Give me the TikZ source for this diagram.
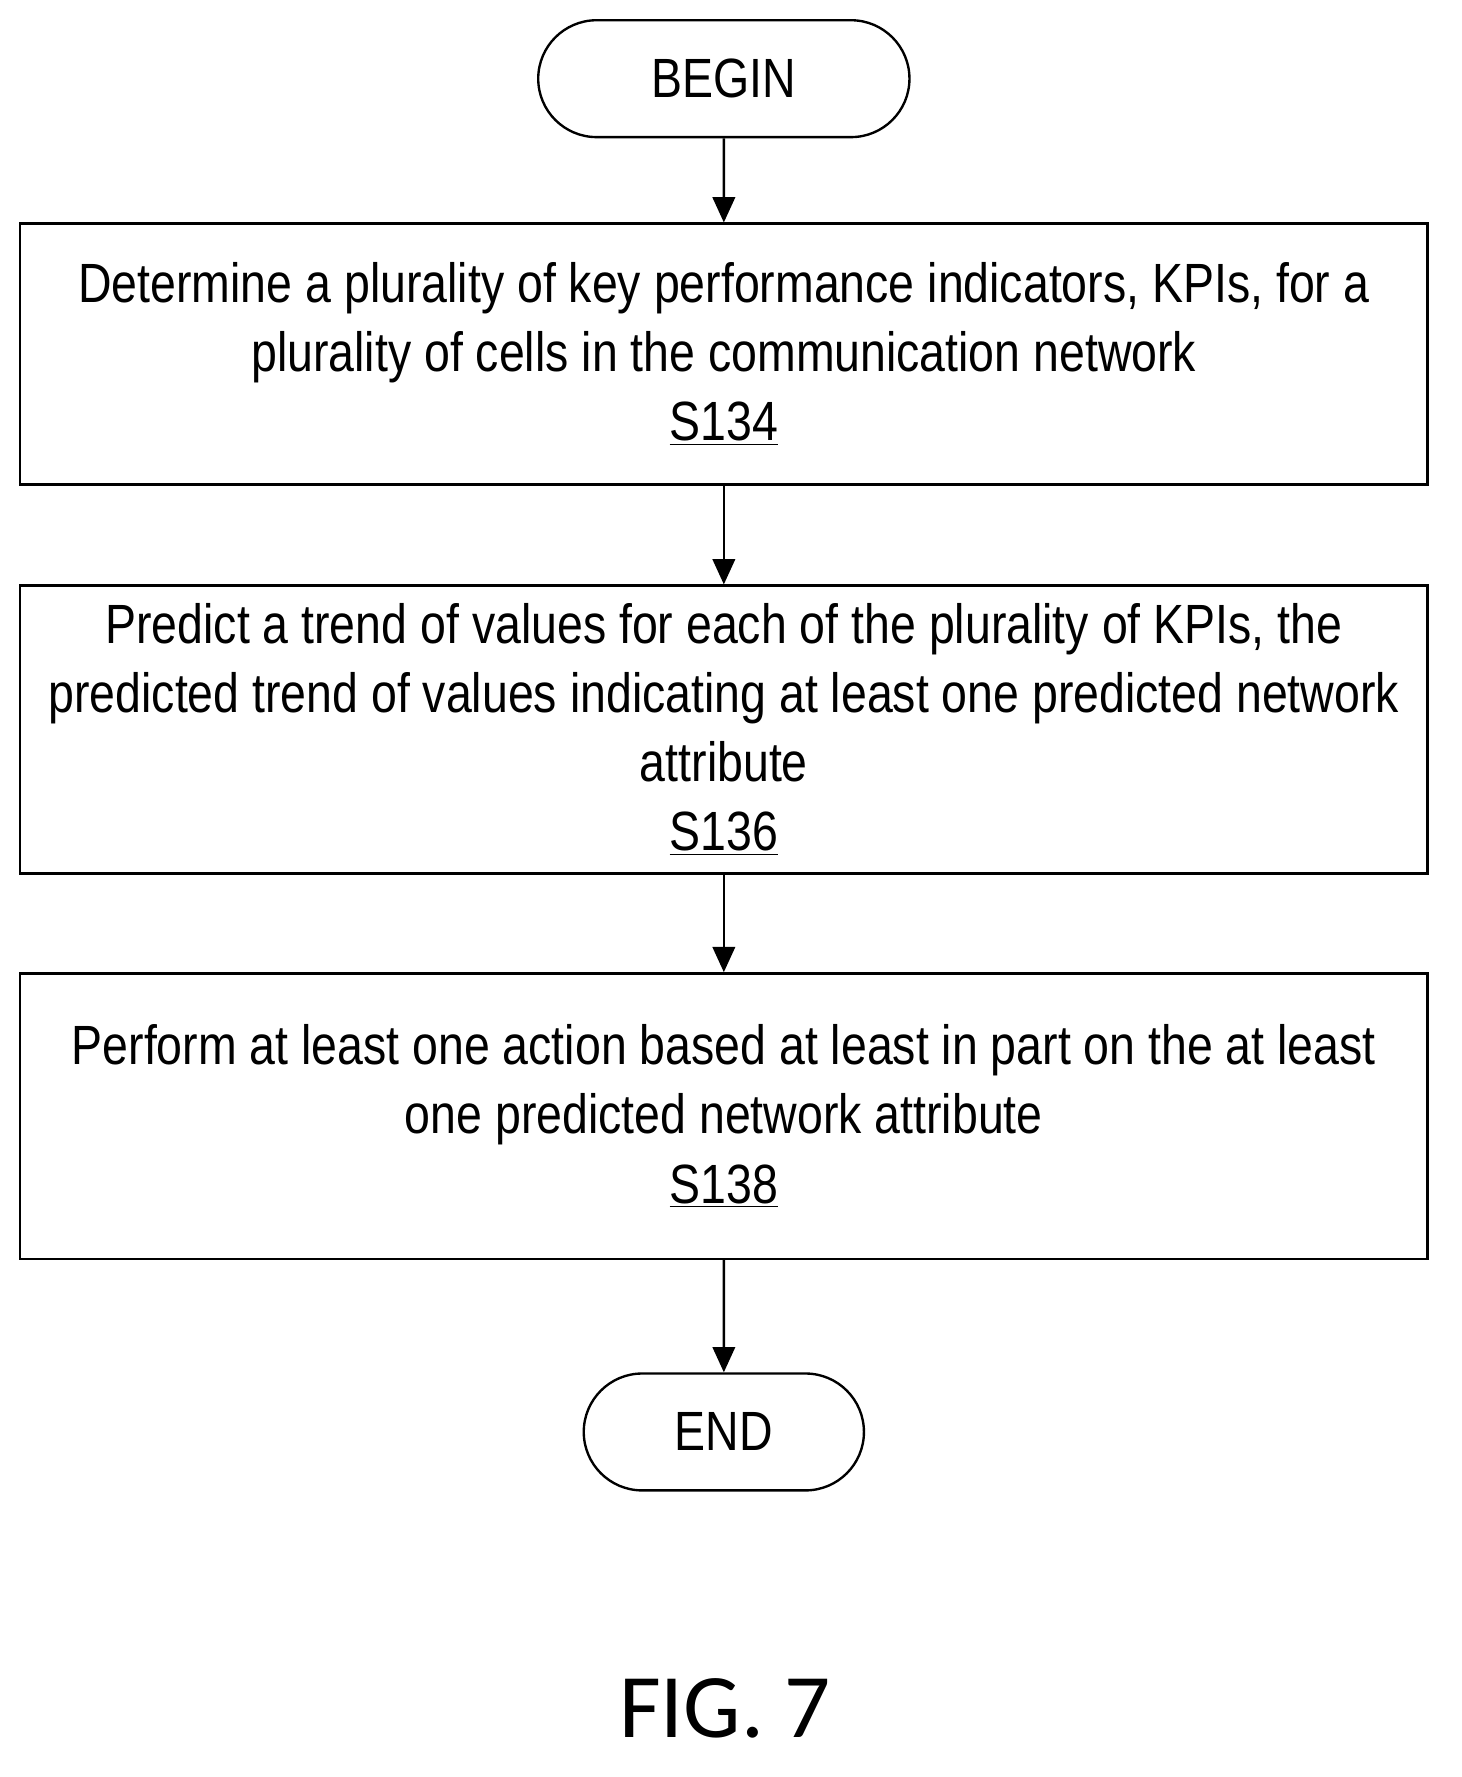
\documentclass[tikz,border=0pt]{standalone}
\usepackage{fontspec}
\setmainfont{Liberation Sans}[FakeStretch=0.84]
\newfontfamily\figfont{Carlito}
\usetikzlibrary{positioning,shapes.misc,arrows.meta}
\tikzset{
    flowstep/.style={draw,line width=1.2pt,minimum width=25.04cm,align=center,font=\fontsize{28}{35}\selectfont},
    term/.style={draw,line width=1.2pt,rounded rectangle,minimum height=2.08cm,font=\fontsize{28}{35}\selectfont},
    flow/.style={line width=1.2pt,-{Triangle[length=0.45cm,width=0.4cm]}}
}
\begin{document}
\begin{tikzpicture}
    \useasboundingbox (0,0) rectangle (26,-31.62);

    % Ablauf
    \node[term,minimum width=6.84cm] (begin) at (12.88,-1.4) {BEGIN};
    \node[flowstep,minimum height=4.64cm] (s134) at (12.88,-6.3) {Determine a plurality of key performance indicators, KPIs, for a\\plurality of cells in the communication network\\\underline{S134}};
    \node[flowstep,minimum height=5.12cm] (s136) at (12.88,-12.98) {Predict a trend of values for each of the plurality of KPIs, the\\predicted trend of values indicating at least one predicted network\\attribute\\\underline{S136}};
    \node[flowstep,minimum height=5.08cm] (s138) at (12.88,-19.86) {Perform at least one action based at least in part on the at least\\one predicted network attribute\\\underline{S138}};
    \node[term,minimum width=5.22cm] (end) at (12.88,-25.48) {END};

    \draw[flow] (begin) -- (s134);
    \draw[flow] (s134) -- (s136);
    \draw[flow] (s136) -- (s138);
    \draw[flow] (s138) -- (end);

    \node[font=\figfont\fontsize{46}{50}\selectfont] (fig) at (12.9,-30.4) {FIG. 7};
\end{tikzpicture}
\end{document}
